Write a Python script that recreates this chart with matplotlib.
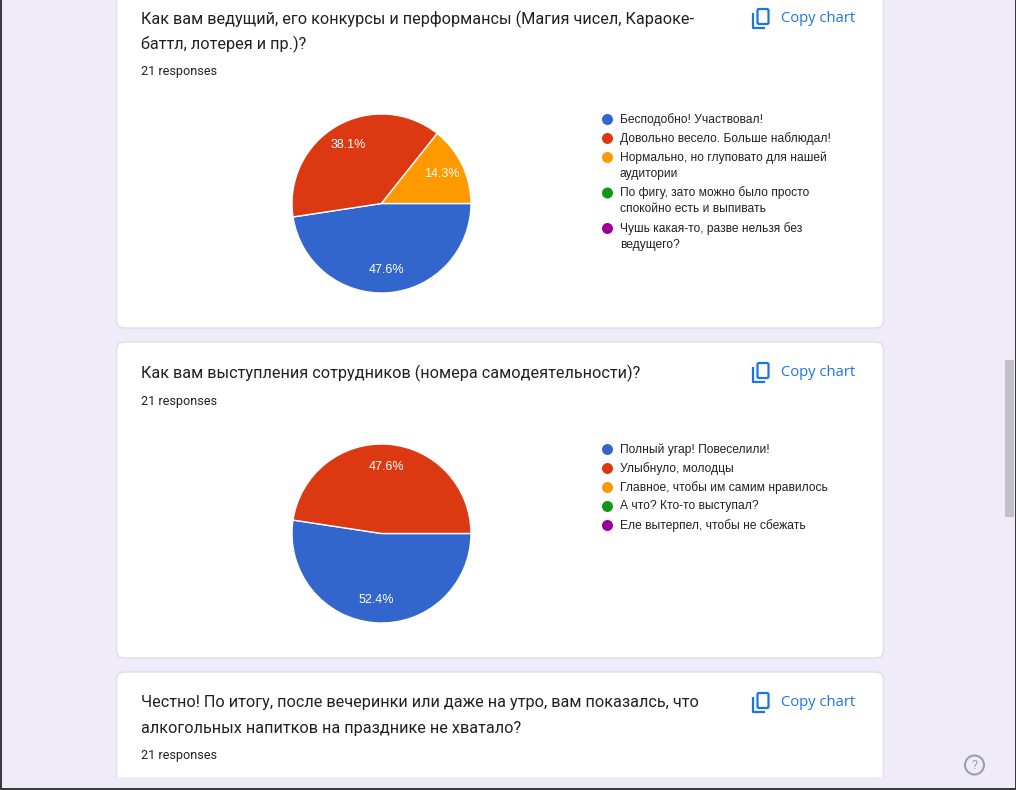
import matplotlib
matplotlib.use("Agg")
import matplotlib.pyplot as plt
from matplotlib.patches import FancyBboxPatch, Rectangle, Circle

W, H = 1016, 790
PX = 72 / 100.0  # px -> pt

# ---------------- data ----------------
title1 = ["Как вам ведущий, его конкурсы и перформансы (Магия чисел, Караоке-",
          "баттл, лотерея и пр.)?"]
labels1 = ["Бесподобно! Участвовал!",
           "Довольно весело. Больше наблюдал!",
           "Нормально, но глуповато для нашей\nаудитории",
           "По фигу, зато можно было просто\nспокойно есть и выпивать",
           "Чушь какая-то, разве нельзя без\nведущего?"]
values1 = [47.6, 38.1, 14.3, 0.0, 0.0]

title2 = ["Как вам выступления сотрудников (номера самодеятельности)?"]
labels2 = ["Полный угар! Повеселили!",
           "Улыбнуло, молодцы",
           "Главное, чтобы им самим нравилось",
           "А что? Кто-то выступал?",
           "Еле вытерпел, чтобы не сбежать"]
values2 = [52.4, 47.6, 0.0, 0.0, 0.0]

title3 = ["Честно! По итогу, после вечеринки или даже на утро, вам показалсь, что",
          "алкогольных напитков на празднике не хватало?"]

responses = "21 responses"
colors = ["#3366CC", "#DC3912", "#FF9900", "#109618", "#990099"]

# ---------------- figure ----------------
fig = plt.figure(figsize=(W / 100, H / 100), dpi=100)
fig.patch.set_facecolor("#EFEBF8")
ax = fig.add_axes([0, 0, 1, 1])
ax.set_xlim(0, W)
ax.set_ylim(H, 0)
ax.axis("off")

FONT = ["Roboto", "DejaVu Sans"]
CHART_FONT = ["Liberation Sans", "DejaVu Sans"]
BTN_FONT = ["Open Sans", "DejaVu Sans"]
TXT = "#202124"
BLUE = "#1A73E8"


def card(y0, y1):
    p = FancyBboxPatch((116.5, y0), 767, y1 - y0,
                       boxstyle="round,pad=0,rounding_size=8",
                       facecolor="white", edgecolor="#DFDDE6", linewidth=1.0,
                       zorder=1)
    ax.add_patch(p)


def copy_chart(y):
    ax.add_patch(FancyBboxPatch((757.5, y - 9), 11, 15,
                                boxstyle="round,pad=0,rounding_size=1.5",
                                facecolor="none", edgecolor=BLUE, lw=1.6, zorder=3))
    ax.plot([753, 753, 765], [y - 5, y + 10, y + 10], color=BLUE, lw=1.6,
            solid_capstyle="butt", solid_joinstyle="round", zorder=3)
    ax.text(781, y, "Copy chart", color=BLUE, fontsize=14.8 * PX, family=BTN_FONT,
            va="center", ha="left", zorder=3)


def header(ylines, lines, yresp):
    for yy, t in zip(ylines, lines):
        ax.text(141, yy, t, color=TXT, fontsize=16.3 * PX, family=FONT,
                va="center", ha="left", zorder=3)
    ax.text(141, yresp, responses, color=TXT, fontsize=12.6 * PX, family=FONT,
            va="center", ha="left", zorder=3)


def draw_legend(labels, ystart):
    y = ystart
    for lab, col in zip(labels, colors):
        ax.add_patch(Circle((607.5, y), 5.5, facecolor=col, edgecolor="none", zorder=3))
        lines = lab.split("\n")
        for i, ln in enumerate(lines):
            ax.text(620, y + 16.5 * i, ln, color=TXT, fontsize=12 * PX,
                    family=CHART_FONT, va="center", ha="left", zorder=3)
        y += 19 + 16.5 * (len(lines) - 1)


def pie(cx, cy, r, vals):
    pa = fig.add_axes([(cx - r) / W, 1 - (cy + r) / H, 2 * r / W, 2 * r / H])
    nz = [(v, c) for v, c in zip(vals, colors) if v > 0]
    v = [a for a, _ in nz]
    c = [b for _, b in nz]
    pa.pie(v, colors=c, startangle=0, counterclock=False,
           autopct="%.1f%%", pctdistance=0.75,
           wedgeprops=dict(edgecolor="white", linewidth=1.0),
           textprops=dict(color="white", fontsize=12.5 * PX, family=CHART_FONT))
    pa.set_xlim(-1, 1)
    pa.set_ylim(-1, 1)
    pa.set_aspect("auto")
    pa.axis("off")


# cards
card(-20, 328)
card(342, 658)
card(672, 830)

# card 1
header([19, 44], title1, 72)
copy_chart(18)
pie(381.5, 203.5, 89.5, values1)
draw_legend(labels1, 119.5)

# card 2
header([373], title2, 402)
copy_chart(372)
pie(381.5, 533.5, 89.5, values2)
draw_legend(labels2, 449.5)

# card 3
header([703, 728], title3, 756)
copy_chart(702)

# bottom strip, borders, scrollbar, help icon
ax.add_patch(Rectangle((0, 777), W, 13, facecolor="#EFEBF8", edgecolor="none", zorder=4))
ax.add_patch(Rectangle((0, 787.5), W, 3, facecolor="#3C3C3C", edgecolor="none", zorder=5))
ax.add_patch(Rectangle((0, 0), 1.5, H, facecolor="#3C3C3C", edgecolor="none", zorder=5))
ax.add_patch(Rectangle((1014.5, 0), 2, H, facecolor="#3C3C3C", edgecolor="none", zorder=5))
ax.add_patch(Rectangle((1005, 360), 9, 157, facecolor="#C1BFC8", edgecolor="none", zorder=5))
ax.add_patch(Circle((974.5, 765), 9.5, facecolor="none", edgecolor="#9AA0A6", lw=1.5, zorder=5))
ax.text(974.5, 765.5, "?", color="#9AA0A6", fontsize=13 * PX, family=FONT,
        ha="center", va="center", zorder=5)

fig.savefig("out.png", dpi=100, facecolor=fig.get_facecolor())
